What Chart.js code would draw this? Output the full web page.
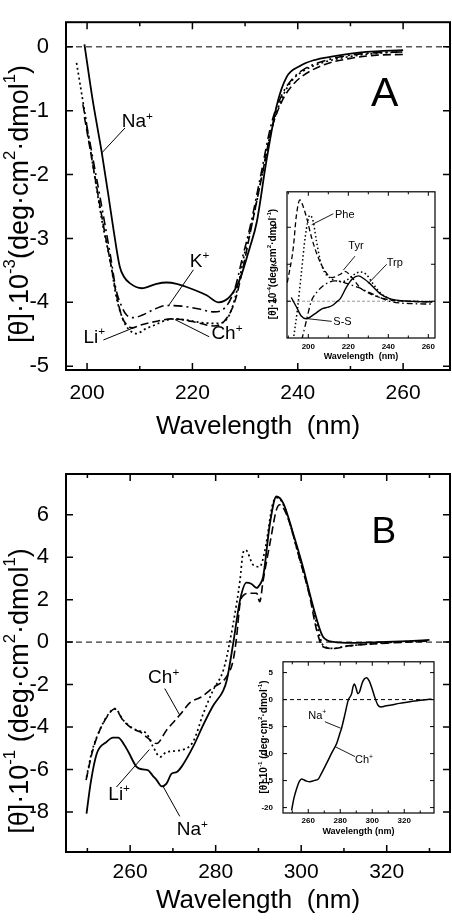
<!DOCTYPE html>
<html>
<head>
<meta charset="utf-8">
<script src="https://cdn.jsdelivr.net/npm/chart.js@4.4.1/dist/chart.umd.min.js"></script>
<style>
  body { margin: 0; background: #fff; width: 452px; height: 922px; position: relative; overflow: hidden; }
  canvas { position: absolute; }
</style>
</head>
<body>
<canvas id="chartA" style="left:0;top:0;width:452px;height:450px" width="452" height="450"></canvas>
<canvas id="chartB" style="left:0;top:450px;width:452px;height:472px" width="452" height="472"></canvas>
<canvas id="insetA" style="left:255px;top:185px;width:190px;height:180px" width="190" height="180"></canvas>
<canvas id="insetB" style="left:250px;top:655px;width:195px;height:185px" width="195" height="185"></canvas>
<script>
// ---- panel A, far-UV CD (x: nm, y: [θ]·10^-3) ----
const naA = [[199.5,0.04],[201,-0.8],[202.8,-1.66],[204,-2.3],[205,-2.85],[206.2,-3.44],[207,-3.6],[208.1,-3.7],[210.4,-3.78],[213.2,-3.71],[215.1,-3.69],[217,-3.71],[218.9,-3.76],[222.7,-3.89],[224.9,-4.0],[227.1,-3.91],[229,-3.64],[230.9,-3.14],[232.2,-2.75],[234,-1.81],[236,-0.92],[237.9,-0.47],[240.4,-0.3],[243,-0.21],[246.7,-0.15],[253,-0.08],[260,-0.05]];
const kA  = [[199.2,-0.9],[201,-1.7],[203,-2.6],[204.5,-3.3],[205.5,-3.8],[206.5,-4.05],[207.5,-4.2],[208.8,-4.24],[210.5,-4.2],[213,-4.1],[215,-4.05],[218,-4.06],[221,-4.1],[224,-4.15],[226,-4.1],[228,-3.8],[229.5,-3.3],[231,-2.8],[233,-2.0],[235,-1.2],[237,-0.75],[239,-0.5],[241,-0.36],[245,-0.22],[250,-0.13],[255,-0.09],[260,-0.08]];
const liA = [[198.0,-0.25],[199.5,-1.0],[201,-1.8],[203,-2.8],[204.5,-3.4],[205.5,-3.9],[206.5,-4.2],[207.5,-4.38],[209.4,-4.49],[211,-4.42],[213,-4.35],[215,-4.28],[217,-4.26],[219,-4.28],[222,-4.32],[225,-4.33],[227,-4.2],[228.5,-3.8],[230,-3.2],[231.5,-2.7],[233,-2.1],[235,-1.3],[237,-0.8],[239,-0.52],[241,-0.38],[245,-0.24],[250,-0.15],[255,-0.1],[260,-0.08]];
const chA = [[199.5,-1.1],[201,-1.8],[203,-2.75],[204.5,-3.4],[205.5,-3.85],[206.5,-4.2],[207.5,-4.35],[208.5,-4.4],[210,-4.36],[213,-4.3],[216,-4.26],[218,-4.27],[221,-4.32],[224,-4.37],[226,-4.3],[228,-4.0],[229.5,-3.5],[231,-2.9],[233,-2.1],[235,-1.3],[237,-0.85],[239,-0.6],[241,-0.45],[245,-0.28],[250,-0.18],[255,-0.13],[260,-0.12]];

// ---- inset A, model compounds (y: [θ]·10^-4) ----
const ssIn  = [[191.5,0.2],[194,-0.3],[196.5,-0.8],[199,-0.95],[203,-0.7],[207,-0.4],[210,-0.32],[212,-0.23],[214,-0.05],[216,0.14],[219,0.75],[222,1.2],[225,1.37],[228,1.2],[231,0.93],[236,0.4],[241,0.13],[248,0.02],[255,-0.02],[262,-0.03]];
const tyrIn = [[189.5,1.0],[192.5,2.9],[194,4.6],[195.8,5.48],[197.5,5.1],[199.2,4.5],[201.7,3.42],[205,2.35],[208.3,1.64],[211.7,1.28],[216,1.46],[218.3,1.62],[221.7,1.3],[225.8,0.75],[230,0.45],[235.8,0.2],[242,0.05],[250,0],[262,-0.05]];
const pheIn = [[192.5,-2.1],[194.5,-0.5],[196.5,1.5],[198.5,3.5],[200.8,4.65],[202.5,4.3],[204,3.3],[206,2.2],[208,1.6],[211,1.25],[214,1.1],[217,1.05],[220,1.2],[223,1.45],[226,1.58],[229,1.45],[232,1.0],[236,0.45],[241,0.12],[248,0.02],[262,-0.02]];
const trpIn = [[196.7,-2.1],[198.5,-1.3],[200,-0.6],[201.5,0],[204,0.45],[207,0.8],[210,1.0],[213,1.1],[216,1.08],[219,0.97],[222,0.86],[225,0.75],[228,0.6],[231,0.45],[235,0.25],[240,0.02],[246,-0.1],[252,-0.13],[258,-0.15],[262,-0.15]];

// ---- panel B, near-UV CD (y: [θ]·10^-1) ----
const naB = [[249.8,-8.08],[250.8,-6.6],[252.2,-5.25],[254.5,-4.7],[256,-4.5],[257.2,-4.5],[258.5,-4.8],[259.6,-5.18],[261.5,-5.88],[263,-6.0],[264.2,-6.04],[265.3,-6.3],[266.2,-6.5],[267.4,-6.8],[268.5,-6.67],[269.7,-6.2],[270.9,-6.12],[272,-5.88],[274.7,-4.94],[277.1,-3.9],[279.4,-3.0],[281.8,-2.27],[282.6,-1.8],[284.1,-0.06],[285.7,1.98],[287.2,2.8],[288.3,2.75],[289.6,2.55],[290.3,2.7],[291.1,3.08],[292.7,5.6],[294.2,6.86],[295.8,6.55],[298.1,5.13],[300.4,3.55],[302.8,1.67],[305.1,0.25],[307.5,0.01],[312,-0.04],[318,0.0],[325,0.05],[330,0.1]];
const liB = [[249.8,-6.36],[251,-5.2],[252.2,-4.47],[254.5,-3.52],[256.4,-3.13],[258.4,-3.68],[260.7,-4.07],[262.5,-4.2],[263.8,-4.3],[265.4,-4.94],[267,-5.41],[268.5,-5.18],[271.6,-5.1],[274.7,-4.7],[277.1,-3.37],[279.4,-2.27],[281.8,-1.32],[283.3,0.01],[284.9,1.83],[285.7,2.93],[286.4,4.2],[287,4.34],[288.8,3.63],[290.3,3.55],[291.5,4.3],[293.4,6.55],[294.5,6.8],[296,6.4],[299.7,3.87],[302,2.2],[303.6,0.88],[305.1,-0.14],[307.5,-0.3],[309.8,-0.22],[315,-0.1],[322,0.0],[330,0.05]];
const chB = [[249.7,-6.5],[251,-5.3],[252.2,-4.5],[254.5,-3.55],[256.4,-3.15],[258.4,-3.7],[260.7,-4.1],[262.5,-4.25],[264,-4.5],[266.2,-4.78],[268.5,-4.15],[271.6,-3.44],[274,-2.85],[276.5,-2.6],[279.4,-2.15],[282.5,-1.64],[284.1,-0.85],[284.9,0.25],[285.7,1.83],[286.5,2.2],[288,2.3],[289.6,2.3],[290.3,1.9],[291.1,2.9],[292.7,4.66],[294.2,6.23],[295,6.47],[296.6,6.0],[299.7,3.87],[302,2.14],[303.6,0.57],[305.1,-0.22],[307.5,-0.3],[311,-0.18],[320,-0.05],[330,0.05]];

// ---- inset B, wide range (Na+ and Ch+ overlap) ----
const naChIn = [[249.6,-20.5],[251,-18.3],[252.8,-16.4],[254.5,-15.1],[255.9,-14.7],[257.5,-14.9],[259,-15.1],[261,-15.2],[263.5,-15.0],[266.3,-14.7],[268,-13.8],[269.4,-13.0],[272,-11.5],[274.6,-9.9],[277.8,-8.1],[279.5,-6.5],[280.9,-5.2],[283,-2.6],[285,-0.1],[287.1,1.1],[288,2.4],[288.8,2.9],[290,2.0],[290.9,1.1],[292,1.4],[293.5,2.9],[295,3.8],[296.5,4.05],[298,3.5],[299.6,2.3],[301.5,0.5],[303.5,-1.0],[305.5,-1.35],[308,-1.2],[312,-1.0],[317,-0.7],[322.5,-0.45],[330,-0.1],[337,0.1]];

// tick values
const xTicksA = [200, 220, 240, 260], xMinorA = [210, 230, 250];
const yTicksA = [0, -1, -2, -3, -4, -5];
const xTicksInA = [200, 220, 240, 260], xMinorInA = [190, 210, 230, 250];
const yTicksInA = [0, 2, 4];
const xTicksB = [260, 280, 300, 320], xMinorB = [250, 270, 290, 310, 330];
const yTicksB = [-8, -6, -4, -2, 0, 2, 4, 6];
const xTicksInB = [260, 280, 300, 320], xMinorInB = [250, 270, 290, 310, 330];
const yTicksInB = [5, 0, -5, -10, -15, -20];

const FONT = '"Liberation Sans", Arial, Helvetica, sans-serif';
Chart.defaults.font.family = FONT;
Chart.defaults.color = '#000';

const SOLID = [], DOT = [2, 3], DASH = [8, 4], DASHDOT = [9, 4, 2, 4];

function pts(a) { return a.map(p => ({ x: p[0], y: p[1] })); }
function line(a, dash, w) {
  return { data: pts(a), borderColor: '#000', borderWidth: w, borderDash: dash, borderCapStyle: 'butt',
           pointRadius: 0, fill: false, cubicInterpolationMode: 'monotone' };
}

// rich text with superscripts: parts = [[text, isSup], ...]
function richWidth(ctx, parts, size, weight) {
  let w = 0;
  for (const [t, sup] of parts) {
    ctx.font = weight + ' ' + (sup ? size * 0.62 : size) + 'px ' + FONT;
    w += ctx.measureText(t).width;
  }
  return w;
}
function drawRich(ctx, parts, x, y, size, weight) {
  for (const [t, sup] of parts) {
    ctx.font = weight + ' ' + (sup ? size * 0.62 : size) + 'px ' + FONT;
    ctx.fillText(t, x, sup ? y - size * 0.4 : y);
    x += ctx.measureText(t).width;
  }
}

// frame: box, inward ticks, zero line, y title, curve labels, panel letter
const frame = {
  id: 'frame',
  beforeDraw(chart, args, o) {
    const { ctx, chartArea: a } = chart;
    if (o.fill) { ctx.save(); ctx.fillStyle = '#fff'; ctx.fillRect(a.left, a.top, a.right - a.left, a.bottom - a.top); ctx.restore(); }
  },
  beforeDatasetsDraw(chart, args, o) {
    const { ctx, chartArea: a, scales: { y } } = chart;
    const py = y.getPixelForValue(0);
    ctx.save();
    ctx.strokeStyle = o.zero.color; ctx.lineWidth = o.zero.width; ctx.setLineDash(o.zero.dash);
    ctx.beginPath(); ctx.moveTo(a.left, py); ctx.lineTo(a.right, py); ctx.stroke();
    ctx.restore();
  },
  afterDraw(chart, args, o) {
    const { ctx, chartArea: a, scales: { x, y } } = chart;
    ctx.save();
    ctx.strokeStyle = '#000'; ctx.fillStyle = '#000'; ctx.setLineDash([]);
    ctx.lineWidth = o.border;
    ctx.strokeRect(a.left, a.top, a.right - a.left, a.bottom - a.top);
    ctx.lineWidth = o.tickW;
    ctx.beginPath();
    const xt = (list, len) => list.forEach(v => {
      const p = x.getPixelForValue(v);
      ctx.moveTo(p, a.bottom); ctx.lineTo(p, a.bottom - len);
      ctx.moveTo(p, a.top); ctx.lineTo(p, a.top + len);
    });
    const yt = (list, len) => list.forEach(v => {
      const p = y.getPixelForValue(v);
      ctx.moveTo(a.left, p); ctx.lineTo(a.left + len, p);
      ctx.moveTo(a.right, p); ctx.lineTo(a.right - len, p);
    });
    xt(o.xMajor, o.major); xt(o.xMinor, o.minor); yt(o.yMajor, o.major);
    ctx.stroke();

    // y title
    const t = o.yTitle;
    ctx.save();
    ctx.translate(t.x, t.y); ctx.rotate(-Math.PI / 2);
    ctx.textBaseline = 'middle'; ctx.textAlign = 'left';
    const w = richWidth(ctx, t.parts, t.size, t.weight);
    drawRich(ctx, t.parts, -w / 2, 0, t.size, t.weight);
    ctx.restore();

    // curve labels with leader lines
    ctx.lineWidth = o.leaderW;
    ctx.textBaseline = 'alphabetic'; ctx.textAlign = 'left';
    for (const L of o.labels) {
      ctx.beginPath();
      ctx.moveTo(x.getPixelForValue(L.from[0]), y.getPixelForValue(L.from[1]));
      ctx.lineTo(x.getPixelForValue(L.to[0]), y.getPixelForValue(L.to[1]));
      ctx.stroke();
      drawRich(ctx, L.sup ? [[L.t, 0], [L.sup, 1]] : [[L.t, 0]],
               x.getPixelForValue(L.at[0]), y.getPixelForValue(L.at[1]), o.labelSize, 'normal');
    }
    if (o.letter) {
      ctx.font = o.letter.size + 'px ' + FONT; ctx.textAlign = 'center';
      ctx.fillText(o.letter.text, x.getPixelForValue(o.letter.at[0]), y.getPixelForValue(o.letter.at[1]));
    }
    ctx.restore();
  }
};

function makeChart(id, c) {
  return new Chart(document.getElementById(id), {
    type: 'line',
    data: { datasets: c.sets },
    plugins: [frame],
    options: {
      responsive: false, animation: false, events: [],
      layout: { padding: c.pad },
      plugins: { legend: { display: false }, tooltip: { enabled: false }, frame: c.frame },
      scales: {
        x: {
          type: 'linear', min: c.xMin, max: c.xMax,
          grid: { display: false }, border: { display: false },
          afterBuildTicks: s => { s.ticks = c.xTicks.map(v => ({ value: v })); },
          afterFit: s => { s.height = c.xH; },
          ticks: { font: c.xFont, padding: c.xPad, maxRotation: 0, autoSkip: false },
          title: { display: true, text: c.xTitle, font: c.titleFont, padding: { top: 0, bottom: c.titlePad } }
        },
        y: {
          type: 'linear', min: c.yMin, max: c.yMax,
          grid: { display: false }, border: { display: false },
          afterBuildTicks: s => { s.ticks = c.yTicks.map(v => ({ value: v })); },
          afterFit: s => { s.width = c.yW; },
          ticks: { font: c.yFont, padding: c.yPad, autoSkip: false }
        }
      }
    }
  });
}

const thetaMain = (exp, sp) => [['[θ]·10', 0], [exp, 1], [sp + '(deg·cm', 0], ['2', 1], ['·dmol', 0], ['1', 1], [')', 0]];
const thetaInset = (exp, sp) => [['[θ]·10', 0], [exp, 1], [sp + '(deg·cm', 0], ['2', 1], ['·dmol', 0], ['-1', 1], [')', 0]];

makeChart('chartA', {
  sets: [line(naA, SOLID, 1.8), line(kA, DASHDOT, 1.6), line(liA, DOT, 1.7), line(chA, DASH, 1.6)],
  pad: { top: 2, right: 2, left: 0, bottom: 0 },
  xMin: 196, xMax: 268.9, xTicks: xTicksA, xH: 80, xPad: 3, xFont: { size: 21 },
  xTitle: 'Wavelength  (nm)', titleFont: { size: 26 }, titlePad: 8,
  yMin: -5.06, yMax: 0.386, yTicks: yTicksA, yW: 66, yPad: 9, yFont: { size: 22 },
  frame: {
    border: 2, tickW: 1.5, major: 7, minor: 4,
    xMajor: xTicksA, xMinor: xMinorA, yMajor: yTicksA,
    zero: { color: '#000', width: 1, dash: [6, 4] },
    yTitle: { parts: thetaMain('-3', ''), x: 21, y: 204, size: 27, weight: 'normal' },
    leaderW: 1, labelSize: 19,
    labels: [
      { t: 'Na', sup: '+', at: [206.6, -1.26], from: [207.2, -1.27], to: [202.8, -1.66] },
      { t: 'K', sup: '+', at: [219.5, -3.44], from: [220.2, -3.49], to: [215.4, -4.06] },
      { t: 'Li', sup: '+', at: [199.3, -4.63], from: [203.1, -4.59], to: [208.8, -4.4] },
      { t: 'Ch', sup: '+', at: [223.6, -4.58], from: [223.2, -4.54], to: [216.7, -4.27] }
    ],
    letter: { text: 'A', at: [256.5, -0.92], size: 41 }
  }
});

makeChart('insetA', {
  sets: [line(ssIn, SOLID, 1.4), line(tyrIn, [5, 3], 1.3), line(pheIn, [1.5, 2.5], 1.5), line(trpIn, [6, 3, 1.5, 3], 1.3)],
  pad: { top: 5, right: 10, left: 0, bottom: 0 },
  xMin: 189.35, xMax: 263.35, xTicks: xTicksInA, xH: 27, xPad: -4, xFont: { size: 8, weight: 'bold' },
  xTitle: 'Wavelength  (nm)', titleFont: { size: 9, weight: 'bold' }, titlePad: 3,
  yMin: -1.99, yMax: 5.92, yTicks: yTicksInA, yW: 32, yPad: 2, yFont: { size: 8, weight: 'bold' },
  frame: {
    fill: true, border: 1.2, tickW: 1, major: 4, minor: 2.5,
    xMajor: xTicksInA, xMinor: xMinorInA, yMajor: yTicksInA,
    zero: { color: '#999', width: 1, dash: [3, 2] },
    yTitle: { parts: thetaInset('-4', ''), x: 18, y: 79, size: 10, weight: 'bold' },
    leaderW: 0.9, labelSize: 11,
    labels: [
      { t: 'Phe', at: [213.35, 4.49], from: [212.5, 4.73], to: [201.7, 4.14] },
      { t: 'Tyr', at: [220, 2.8], from: [223.35, 2.44], to: [217.5, 1.68] },
      { t: 'Trp', at: [239.2, 1.91], from: [239.2, 2.0], to: [230, 0.96] },
      { t: 'S-S', at: [212.5, -1.3], from: [211.7, -1.09], to: [199.2, -0.94] }
    ]
  }
});

makeChart('chartB', {
  sets: [line(naB, SOLID, 1.8), line(liB, DOT, 1.7), line(chB, DASH, 1.6)],
  pad: { top: 24, right: 2, left: 0, bottom: 0 },
  xMin: 245, xMax: 334.8, xTicks: xTicksB, xH: 70, xPad: 0, xFont: { size: 21 },
  xTitle: 'Wavelength  (nm)', titleFont: { size: 26 }, titlePad: 6,
  yMin: -9.89, yMax: 7.92, yTicks: yTicksB, yW: 66, yPad: 9, yFont: { size: 22 },
  frame: {
    border: 2, tickW: 1.5, major: 7, minor: 4,
    xMajor: xTicksB, xMinor: xMinorB, yMajor: yTicksB,
    zero: { color: '#000', width: 1, dash: [6, 4] },
    yTitle: { parts: thetaMain('-1', ' '), x: 21, y: 241, size: 27, weight: 'normal' },
    leaderW: 1, labelSize: 19,
    labels: [
      { t: 'Ch', sup: '+', at: [264.2, -1.95], from: [268.1, -2.19], to: [271.6, -3.44] },
      { t: 'Li', sup: '+', at: [254.9, -7.42], from: [256.8, -6.83], to: [264.5, -5.06] },
      { t: 'Na', sup: '+', at: [270.9, -9.11], from: [271.6, -8.21], to: [267.7, -6.8] }
    ],
    letter: { text: 'B', at: [319.3, 4.67], size: 37 }
  }
});

makeChart('insetB', {
  sets: [line(naChIn, SOLID, 1.5)],
  pad: { top: 6, right: 11, left: 0, bottom: 0 },
  xMin: 244.2, xMax: 338.6, xTicks: xTicksInB, xH: 27, xPad: -5, xFont: { size: 8, weight: 'bold' },
  xTitle: 'Wavelength (nm)', titleFont: { size: 9, weight: 'bold' }, titlePad: 3,
  yMin: -21, yMax: 7, yTicks: yTicksInB, yW: 33, yPad: 2, yFont: { size: 8, weight: 'bold' },
  frame: {
    fill: true, border: 1.2, tickW: 1, major: 4, minor: 2.5,
    xMajor: xTicksInB, xMinor: xMinorInB, yMajor: yTicksInB,
    zero: { color: '#000', width: 1, dash: [4, 3] },
    yTitle: { parts: thetaInset('-1', ' '), x: 14, y: 82, size: 10, weight: 'bold' },
    leaderW: 0.9, labelSize: 11,
    labels: [
      { t: 'Na', sup: '+', at: [260, -3.5], from: [270.4, -4.1], to: [280.3, -5.3] },
      { t: 'Ch', sup: '+', at: [289.2, -11.8], from: [289.2, -10.55], to: [276.7, -8.7] }
    ]
  }
});
</script>
</body>
</html>
